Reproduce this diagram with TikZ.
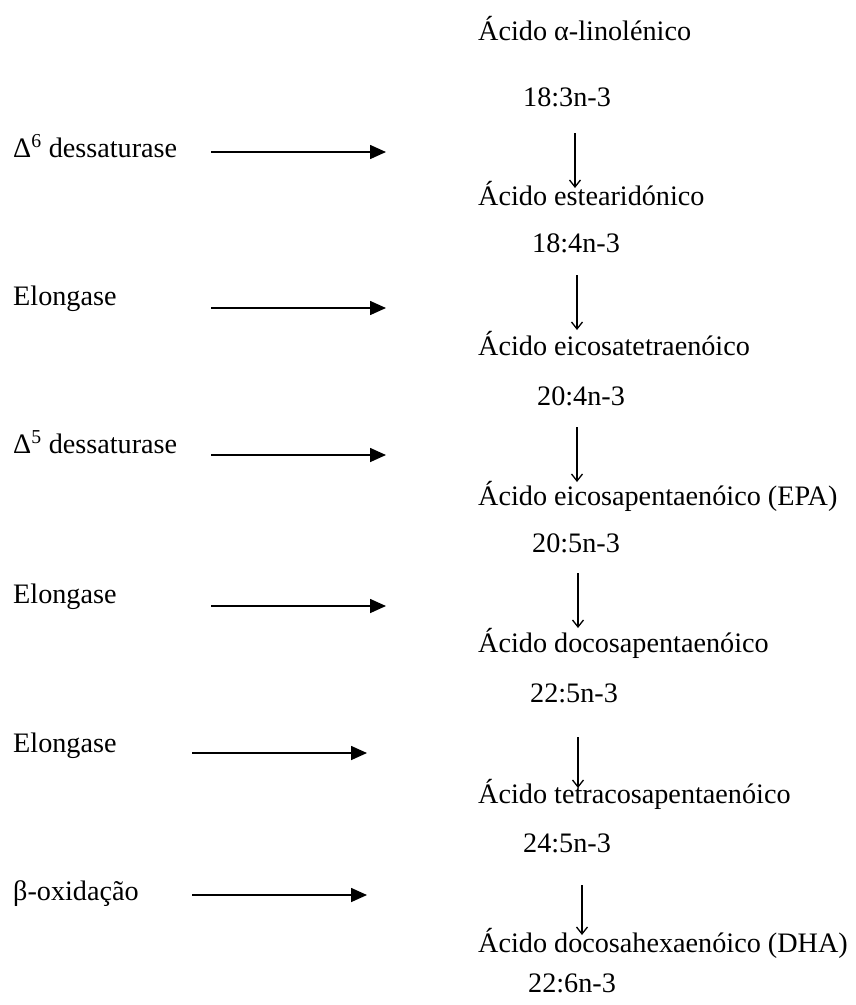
\documentclass[tikz,border=0pt]{standalone}
\usepackage{fontspec}
\setmainfont{Liberation Serif}
\usetikzlibrary{arrows.meta}
\tikzset{
  acid/.style={
    anchor=base west,
    inner sep=0pt,
    font=\fontsize{28.2}{34}\selectfont
  },
  code/.style={
    anchor=base west,
    inner sep=0pt,
    font=\fontsize{28.2}{34}\selectfont
  },
  enzyme/.style={
    anchor=base west,
    inner sep=0pt,
    font=\fontsize{28.2}{34}\selectfont
  },
  hline/.style={-{Triangle[length=16pt,width=14pt]}, line width=1.6pt, draw=black},
  vline/.style={-{Straight Barb[length=7pt,width=11pt]}, line width=1.3pt, draw=black}
}
\begin{document}
\begin{tikzpicture}[x=1pt, y=-1pt]
  \useasboundingbox (0,0) rectangle (855,1005);

  % acidos e notacao
  \node[acid] (ala) at (478,40) {Ácido α-linolénico};
  \node[code] (alac) at (523,106) {18:3n-3};
  \node[acid] (sda) at (478,205) {Ácido estearidónico};
  \node[code] (sdac) at (532,252) {18:4n-3};
  \node[acid] (eta) at (478,355) {Ácido eicosatetraenóico};
  \node[code] (etac) at (537,405) {20:4n-3};
  \node[acid] (epa) at (478,505) {Ácido eicosapentaenóico (EPA)};
  \node[code] (epac) at (532,552) {20:5n-3};
  \node[acid] (dpa) at (478,652) {Ácido docosapentaenóico};
  \node[code] (dpac) at (530,702) {22:5n-3};
  \node[acid] (tpa) at (478,803) {Ácido tetracosapentaenóico};
  \node[code] (tpac) at (523,852) {24:5n-3};
  \node[acid] (dha) at (478,952) {Ácido docosahexaenóico (DHA)};
  \node[code] (dhac) at (528,992) {22:6n-3};

  % enzimas
  \node[enzyme] (des6) at (13,157) {Δ\textsuperscript{6} dessaturase};
  \node[enzyme] (elo1) at (13,305) {Elongase};
  \node[enzyme] (des5) at (13,453) {Δ\textsuperscript{5} dessaturase};
  \node[enzyme] (elo2) at (13,603) {Elongase};
  \node[enzyme] (elo3) at (13,752) {Elongase};
  \node[enzyme] (boxi) at (13,900) {β-oxidação};

  % pontas das setas
  \coordinate (des6a) at (211,152);  \coordinate (des6b) at (386,152);
  \coordinate (elo1a) at (211,308);  \coordinate (elo1b) at (386,308);
  \coordinate (des5a) at (211,455);  \coordinate (des5b) at (386,455);
  \coordinate (elo2a) at (211,606);  \coordinate (elo2b) at (386,606);
  \coordinate (elo3a) at (192,753);  \coordinate (elo3b) at (367,753);
  \coordinate (boxia) at (192,895);  \coordinate (boxib) at (367,895);

  \coordinate (ala-out) at (575,133);  \coordinate (sda-in) at (575,188);
  \coordinate (sda-out) at (577,275);  \coordinate (eta-in) at (577,330);
  \coordinate (eta-out) at (577,427);  \coordinate (epa-in) at (577,482);
  \coordinate (epa-out) at (578,573);  \coordinate (dpa-in) at (578,628);
  \coordinate (dpa-out) at (578,737);  \coordinate (tpa-in) at (578,788);
  \coordinate (tpa-out) at (582,885);  \coordinate (dha-in) at (582,935);

  \draw[hline] (des6a) -- (des6b);
  \draw[hline] (elo1a) -- (elo1b);
  \draw[hline] (des5a) -- (des5b);
  \draw[hline] (elo2a) -- (elo2b);
  \draw[hline] (elo3a) -- (elo3b);
  \draw[hline] (boxia) -- (boxib);

  \draw[vline] (ala-out) -- (sda-in);
  \draw[vline] (sda-out) -- (eta-in);
  \draw[vline] (eta-out) -- (epa-in);
  \draw[vline] (epa-out) -- (dpa-in);
  \draw[vline] (dpa-out) -- (tpa-in);
  \draw[vline] (tpa-out) -- (dha-in);
\end{tikzpicture}
\end{document}
